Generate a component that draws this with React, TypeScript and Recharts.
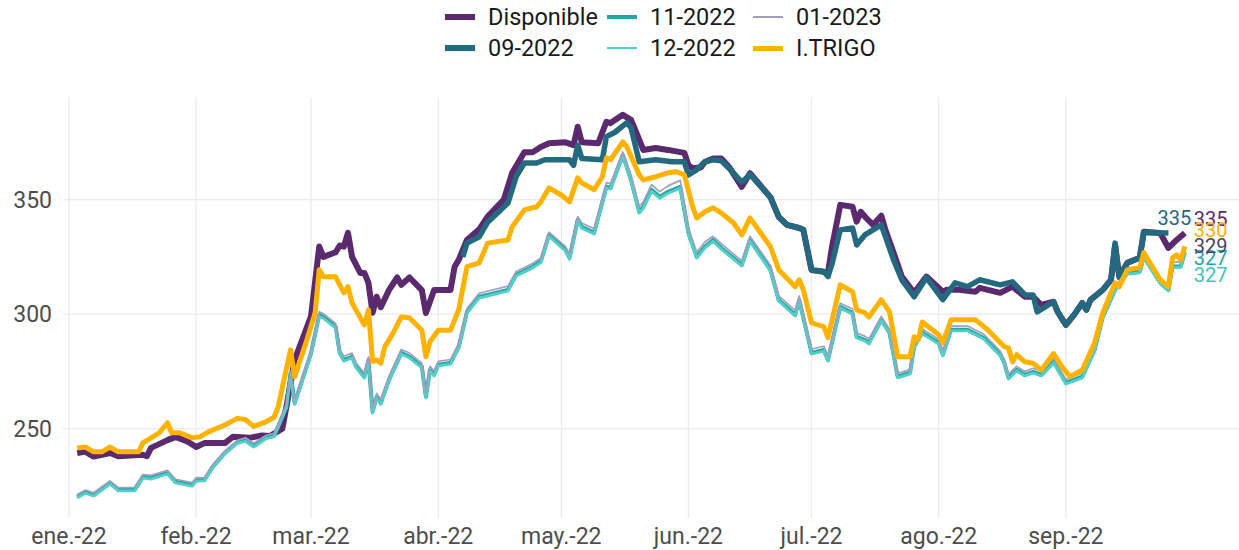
import React from 'react';
import { LineChart, Line, XAxis, YAxis, CartesianGrid, LabelList } from 'recharts';

// dates are MM-DD in 2022
const monthTicks = ['01-01', '02-01', '03-01', '04-01', '05-01', '06-01', '07-01', '08-01', '09-01'];
const monthLabels = ['ene.-22', 'feb.-22', 'mar.-22', 'abr.-22', 'may.-22', 'jun.-22', 'jul.-22', 'ago.-22', 'sep.-22'];
const yTicks = [250, 300, 350];

const dispDates = [
  '01-03', '01-05', '01-07', '01-11', '01-13', '01-19', '01-20', '01-21', '01-25', '01-27',
  '01-30', '02-01', '02-03', '02-08', '02-10', '02-14', '02-17', '02-19', '02-22', '02-23',
  '02-25', '03-01', '03-03', '03-04', '03-07', '03-08', '03-09', '03-10', '03-11', '03-13',
  '03-14', '03-15', '03-16', '03-17', '03-18', '03-20', '03-22', '03-23', '03-25', '03-28',
  '03-29', '03-31', '04-04', '04-05', '04-06', '04-08', '04-11', '04-13', '04-17', '04-19',
  '04-22', '04-24', '04-26', '04-28', '05-02', '05-04', '05-05', '05-06', '05-10', '05-12',
  '05-13', '05-16', '05-18', '05-19', '05-21', '05-24', '05-27', '05-31', '06-01', '06-02',
  '06-04', '06-05', '06-07', '06-09', '06-11', '06-14', '06-16', '06-21', '06-23', '06-25',
  '06-28', '06-29', '07-01', '07-04', '07-05', '07-06', '07-08', '07-11', '07-12', '07-13',
  '07-14', '07-16', '07-18', '07-19', '07-21', '07-23', '07-26', '07-29', '08-02', '08-03',
  '08-06', '08-10', '08-11', '08-16', '08-19', '08-22', '08-24', '08-26', '08-29', '08-30',
  '09-01', '09-03', '09-05', '09-06', '09-07', '09-10', '09-12', '09-13', '09-14', '09-16',
  '09-19', '09-20', '09-24', '09-26', '09-28', '09-30',
];
const dispValues = [
  239.4, 240, 237.8, 239.4, 238, 238.6, 238, 241.6, 245, 246.4,
  244.3, 242, 243.7, 243.7, 246.5, 246, 247, 246.8, 250, 259.5,
  280, 299, 329.5, 325, 327, 330, 329.5, 335.5, 325, 318,
  318, 313.6, 300.6, 307.6, 303, 310.5, 316, 312.8, 316, 310.5,
  300.5, 310.5, 310.5, 320.7, 323.7, 332.4, 337, 342.5, 350, 361.6,
  370.7, 370.7, 373, 374.6, 375, 373.8, 381.8, 375, 374.6, 384,
  383.4, 387, 384.8, 380.5, 371.7, 372.5, 371.7, 370.4, 365, 363.7,
  364, 366.4, 368, 368, 364, 355.6, 361.5, 351, 342.5, 339,
  337.6, 336.8, 319.3, 318.5, 318, 329.4, 347.7, 346.9, 340.4, 344.7,
  342.6, 339, 343, 336.8, 326.8, 316.4, 309.3, 316.4, 309.8, 310.6,
  310.6, 309.8, 311.5, 309.3, 312, 307.6, 307.7, 304, 305.4, 301,
  295.3, 299.7, 304.9, 301.9, 306.2, 310.6, 315, 330.2, 316.4, 322.4,
  324.6, 336, 335.4, 328.9, 332.4, 335.4,
];

const sep22Dates = [
  '04-07', '04-08', '04-11', '04-13', '04-18', '04-20', '04-22', '04-25', '04-27', '05-03',
  '05-04', '05-05', '05-06', '05-11', '05-12', '05-14', '05-17', '05-18', '05-20', '05-24',
  '05-28', '05-31', '06-01', '06-03', '06-05', '06-07', '06-09', '06-11', '06-14', '06-16',
  '06-21', '06-23', '06-25', '06-28', '06-29', '07-01', '07-04', '07-05', '07-06', '07-08',
  '07-11', '07-12', '07-14', '07-16', '07-18', '07-21', '07-23', '07-26', '07-29', '08-02',
  '08-05', '08-08', '08-11', '08-16', '08-19', '08-22', '08-24', '08-25', '08-29', '08-30',
  '09-01', '09-03', '09-05', '09-06', '09-07', '09-10', '09-12', '09-13', '09-14', '09-16',
  '09-19', '09-20', '09-26',
];
const sep22Values = [
  325, 331, 333.8, 340, 348.5, 360, 366, 366, 367.4, 367.4,
  365, 373.8, 368, 367.4, 377.5, 379.3, 383.6, 381.4, 366.5, 367.4,
  366.5, 366.5, 360.8, 363, 366.5, 367.4, 367, 363.5, 357.6, 361,
  351, 342.5, 339, 337.6, 336.8, 319.3, 318.5, 316.4, 322, 336.8,
  337.6, 330.2, 334.6, 336.8, 339, 323.7, 315, 307.6, 315.9, 306.3,
  313.7, 312, 315, 312.8, 314.1, 308.5, 308.4, 301, 305.4, 301,
  295.3, 299.7, 304.9, 301.9, 306.2, 310.6, 315, 331, 316, 322.4,
  324.6, 335.6, 335.4,
];

// 11-2022, 12-2022 and 01-2023 are read on the same dates
const lowDates = [
  '01-03', '01-05', '01-07', '01-11', '01-13', '01-17', '01-19', '01-21', '01-25', '01-27',
  '01-31', '02-01', '02-03', '02-05', '02-08', '02-11', '02-13', '02-15', '02-18', '02-20',
  '02-21', '02-23', '02-24', '02-25', '03-01', '03-03', '03-04', '03-07', '03-08', '03-09',
  '03-11', '03-12', '03-14', '03-15', '03-16', '03-17', '03-18', '03-20', '03-23', '03-25',
  '03-28', '03-29', '03-30', '03-31', '04-01', '04-04', '04-06', '04-08', '04-11', '04-13',
  '04-18', '04-20', '04-24', '04-26', '04-28', '05-02', '05-03', '05-05', '05-06', '05-09',
  '05-12', '05-13', '05-16', '05-18', '05-20', '05-21', '05-23', '05-25', '05-27', '05-30',
  '06-01', '06-03', '06-05', '06-07', '06-09', '06-14', '06-16', '06-21', '06-23', '06-27',
  '06-28', '07-01', '07-04', '07-05', '07-08', '07-11', '07-12', '07-14', '07-15', '07-18',
  '07-20', '07-22', '07-25', '07-26', '07-28', '08-01', '08-02', '08-04', '08-08', '08-12',
  '08-16', '08-17', '08-18', '08-20', '08-22', '08-24', '08-26', '08-29', '09-01', '09-05',
  '09-08', '09-10', '09-13', '09-16', '09-19', '09-20', '09-24', '09-26', '09-27', '09-29',
  '09-30',
];
const nov22Values = [
  220.3, 222.4, 221, 226.3, 223.3, 223.3, 229, 228.5, 230.7, 226.8,
  225.4, 227.6, 227.6, 233.3, 239.4, 244, 245, 242.5, 246, 247,
  251, 259.5, 274.3, 261.2, 283, 299.7, 298.8, 294.5, 283.1, 280,
  281.4, 277.1, 272.7, 280, 257.5, 263.9, 261.2, 271.3, 283.1, 281.4,
  277.1, 264, 275.7, 273.5, 277.9, 278.7, 285.7, 301, 307.6, 308.4,
  310.6, 317.2, 320.7, 323, 334.6, 328.1, 324.6, 341.2, 338.1, 335.5,
  355.6, 355.1, 369.5, 358.6, 344.7, 346.9, 354.3, 351.2, 353.4, 355.6,
  335.5, 325, 329.4, 332.4, 328.9, 321.5, 332.4, 319.3, 306.2, 299.7,
  306.2, 283.1, 284.4, 280, 303.2, 300.5, 290.1, 288.8, 287.5, 297.5,
  291.9, 272.7, 274.4, 285.8, 291.9, 287.5, 282.3, 293.2, 293.2, 289.6,
  282.3, 278.7, 272.2, 275.7, 273.5, 274.8, 273.5, 279.2, 270, 272.7,
  284.4, 298.8, 310.6, 318, 318.5, 325.1, 313.7, 310.6, 320.8, 320.8,
  327,
];
const dec22Values = [
  219.8, 221.8, 220.6, 225.8, 222.9, 222.8, 228.4, 228, 230.2, 226.3,
  224.9, 227.1, 227.2, 232.8, 239, 243.6, 244.5, 242, 245.6, 246.5,
  250.5, 259, 273.5, 260.6, 282.4, 299, 298.2, 293.9, 282.5, 279.4,
  280.9, 276.5, 272.1, 279.4, 256.8, 263.3, 260.6, 270.8, 282.6, 280.9,
  276.6, 263.4, 275.2, 273, 277.4, 278.2, 285.2, 300.5, 307.1, 307.9,
  310.1, 316.7, 320.2, 322.5, 334, 327.6, 324, 340.6, 337.5, 335,
  355, 354.6, 369, 358, 344.1, 346.3, 353.7, 350.6, 352.8, 355,
  334.9, 324.5, 328.9, 331.8, 328.4, 321, 331.8, 318.8, 305.7, 299.2,
  305.7, 282.6, 283.9, 279.5, 302.7, 300, 289.6, 288.3, 287, 297,
  291.4, 272.2, 273.9, 285.3, 291.4, 287, 281.8, 292.7, 292.7, 289.1,
  281.8, 278.2, 271.7, 275.2, 273, 274.3, 273, 278.7, 269.5, 272.2,
  283.9, 298.3, 310.1, 317.5, 318, 324.6, 313.2, 310.1, 320.4, 320.5,
  326.8,
];
const jan23Values = [
  221.3, 223.2, 222, 227.2, 224.3, 224.4, 230, 229.6, 231.8, 227.9,
  226.5, 228.6, 228.5, 234.2, 240.3, 244.9, 246, 243.6, 247, 248,
  252, 260.6, 275, 262.4, 284.3, 301, 300.2, 295.9, 284.5, 281.6,
  283, 278.6, 274.2, 281.4, 259, 265.4, 262.8, 272.8, 284.6, 283,
  278.6, 265.6, 277.2, 275.2, 279.4, 280.2, 287.2, 302.5, 309.1, 310,
  312.2, 318.6, 322.1, 324.5, 335.8, 329.6, 326.2, 342.6, 339.8, 337.3,
  357.4, 357, 370.8, 360.6, 347, 349, 356.5, 353.5, 356, 358.4,
  337.6, 327, 331.5, 334, 330.8, 323.2, 334, 321.2, 308, 301.6,
  307.9, 284.8, 286, 281.6, 304.8, 302.2, 291.8, 290.4, 289.2, 299,
  293.4, 274.2, 275.8, 287.2, 293.5, 289.1, 283.8, 294.8, 294.8, 291.2,
  283.9, 280.3, 273.8, 277.2, 275, 276.4, 275.1, 280.8, 271.5, 274.3,
  286, 300.3, 312, 319.5, 320, 326.5, 315.4, 312.4, 322.6, 322.8,
  329,
];

const trigoDates = [
  '01-03', '01-05', '01-07', '01-09', '01-11', '01-13', '01-18', '01-19', '01-21', '01-23',
  '01-25', '01-26', '01-28', '01-31', '02-02', '02-04', '02-08', '02-11', '02-13', '02-15',
  '02-18', '02-20', '02-21', '02-22', '02-24', '02-25', '02-28', '03-02', '03-03', '03-04',
  '03-07', '03-09', '03-10', '03-11', '03-14', '03-15', '03-16', '03-17', '03-18', '03-19',
  '03-21', '03-23', '03-25', '03-28', '03-29', '03-30', '04-01', '04-04', '04-06', '04-08',
  '04-11', '04-13', '04-18', '04-19', '04-22', '04-25', '04-26', '04-28', '05-01', '05-03',
  '05-05', '05-06', '05-09', '05-11', '05-12', '05-13', '05-16', '05-17', '05-20', '05-21',
  '05-24', '05-27', '05-29', '05-31', '06-02', '06-03', '06-05', '06-07', '06-09', '06-12',
  '06-14', '06-16', '06-21', '06-23', '06-27', '06-28', '06-29', '07-01', '07-04', '07-05',
  '07-08', '07-11', '07-12', '07-14', '07-15', '07-18', '07-20', '07-22', '07-25', '07-26',
  '07-27', '07-28', '08-01', '08-02', '08-04', '08-10', '08-13', '08-17', '08-18', '08-19',
  '08-20', '08-22', '08-24', '08-26', '08-29', '08-31', '09-02', '09-05', '09-08', '09-10',
  '09-13', '09-14', '09-16', '09-19', '09-20', '09-21', '09-24', '09-26', '09-27', '09-28',
  '09-29', '09-30',
];
const trigoValues = [
  241.6, 242, 239.9, 239.9, 242, 239.9, 239.9, 243.8, 246, 248.2,
  252.6, 248.2, 248.2, 246, 246.5, 248.6, 251.6, 254.5, 254, 251,
  253, 255, 259.5, 268, 284.4, 272.7, 288.8, 300.6, 319.4, 316.3,
  316.3, 309.3, 312, 304.9, 295.3, 301.9, 279.3, 280, 278.6, 285.8,
  291.7, 298.8, 298.4, 293, 281.4, 288, 293, 293, 301.9, 320.7,
  322.4, 331, 332.4, 338.1, 345.5, 346.9, 349, 355.1, 352, 349,
  359.5, 357.3, 354.3, 360, 368.3, 367.4, 375.2, 373, 360.8, 358.6,
  360, 361.7, 362.2, 360.8, 346.9, 342, 344.7, 346.4, 344.2, 339.8,
  334.6, 342, 329.4, 319.4, 312, 315, 310.6, 296.2, 294.5, 289.7,
  312.8, 309.8, 301.9, 300.6, 298.8, 306.3, 301, 281.4, 281.4, 290.1,
  288.8, 296.6, 291, 287.5, 297.5, 297.5, 293.1, 285.8, 285.3, 279.2,
  282.3, 279.2, 278.6, 275.6, 282.8, 277.1, 272.7, 275.6, 287.5, 300.6,
  313.7, 312, 319.4, 320.3, 326.9, 323.8, 315, 312, 324.6, 325.9,
  323.7, 329.6,
];

const dayOfYear = (md: string) => {
  const [m, d] = md.split('-').map(Number);
  return (Date.UTC(2022, m - 1, d) - Date.UTC(2022, 0, 1)) / 86400000;
};

const toPoints = (dates: string[], values: number[]) =>
  dates.map((d, i) => ({ day: dayOfYear(d), value: values[i] }));

const tickDays = monthTicks.map(dayOfYear);

const series = [
  { name: 'Disponible', dates: dispDates, values: dispValues, color: '#5b2a6e', width: 6, labelColor: '#5b2a6e', dx: 9, dy: -14 },
  { name: '09-2022', dates: sep22Dates, values: sep22Values, color: '#236a80', width: 5.5, labelColor: '#236a80', dx: -11, dy: -15 },
  { name: '11-2022', dates: lowDates, values: nov22Values, color: '#27a6a3', width: 4, labelColor: '#27a6a3', dx: 9, dy: 6 },
  { name: '12-2022', dates: lowDates, values: dec22Values, color: '#4fd1c9', width: 2.8, labelColor: '#3fc6be', dx: 9, dy: 22 },
  { name: '01-2023', dates: lowDates, values: jan23Values, color: '#a29ebd', width: 1.7, labelColor: '#4a4468', dx: 9, dy: -2 },
  { name: 'I.TRIGO', dates: trigoDates, values: trigoValues, color: '#ffb300', width: 5, labelColor: '#ffb300', dx: 9, dy: -16 },
];

// legend is laid out by column: Disponible/09-2022, 11-2022/12-2022, 01-2023/I.TRIGO
const legendCols = [445, 607, 753];
const legendRows = [17, 48];

const endLabel = (lastIndex: number, dx: number, dy: number, color: string) => (props: any) => {
  const { index, value } = props;
  if (index !== lastIndex) return null;
  const x = props.x ?? props.viewBox?.x;
  const y = props.y ?? props.viewBox?.y;
  return (
    <text
      x={x + dx}
      y={y + dy}
      fill={color}
      fontSize={20}
      fontFamily="Roboto"
      dominantBaseline="central"
    >
      {Math.round(value)}
    </text>
  );
};

export default function App() {
  return (
    <div
      style={{
        position: 'absolute',
        left: 0,
        top: 0,
        width: 1239,
        height: 550,
        background: '#fff',
        fontFamily: 'Roboto',
      }}
    >
      {series.map((s, i) => (
        <div
          key={s.name}
          style={{
            position: 'absolute',
            left: legendCols[Math.floor(i / 2)],
            top: legendRows[i % 2] - 15,
            height: 30,
            display: 'flex',
            alignItems: 'center',
          }}
        >
          <div style={{ width: 30, height: s.width, background: s.color, marginRight: 13 }} />
          <span style={{ fontSize: 23.5, color: '#1a1a1a', lineHeight: '30px' }}>{s.name}</span>
        </div>
      ))}
      <LineChart width={1239} height={550} margin={{ top: 97, right: 0, bottom: 0, left: 0 }}>
        <CartesianGrid stroke="#ebebeb" strokeWidth={1.3} syncWithTicks />
        <XAxis
          dataKey="day"
          type="number"
          domain={[-1.46, 285.2]}
          allowDataOverflow
          ticks={tickDays}
          interval={0}
          tickFormatter={(v: number) => monthLabels[tickDays.indexOf(v)]}
          axisLine={false}
          tickLine={false}
          height={32}
          tickMargin={4}
          tick={{ fill: '#4d4d4d', fontSize: 23, fontFamily: 'Roboto' }}
        />
        <YAxis
          type="number"
          domain={[211, 394.8]}
          allowDataOverflow
          ticks={yTicks}
          axisLine={false}
          tickLine={false}
          width={63}
          tickMargin={5}
          tick={{ fill: '#4d4d4d', fontSize: 23, fontFamily: 'Roboto' }}
        />
        {series.map((s) => (
          <Line
            key={s.name}
            name={s.name}
            data={toPoints(s.dates, s.values)}
            dataKey="value"
            type="linear"
            stroke={s.color}
            strokeWidth={s.width}
            strokeLinejoin="round"
            dot={false}
            activeDot={false}
            isAnimationActive={false}
          >
            <LabelList
              dataKey="value"
              content={endLabel(s.dates.length - 1, s.dx, s.dy, s.labelColor)}
            />
          </Line>
        ))}
      </LineChart>
    </div>
  );
}
